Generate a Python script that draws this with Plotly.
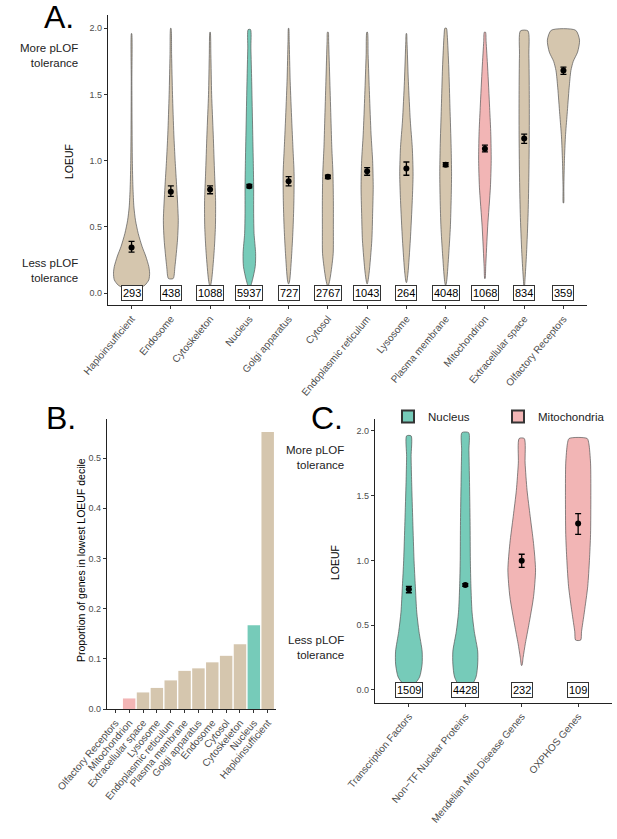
import plotly.graph_objects as go

# ------------------------------------------------------------
# colours / fonts / page geometry
# ------------------------------------------------------------
TAN = "#D5C6AE"
TEAL = "#76CBB9"
PINK = "#F2B5B5"
OUTLINE = "#555555"
TICK_GREY = "#4D4D4D"
FONT = "Liberation Sans, Arial, sans-serif"

FIG_W = 617
FIG_H = 839


def px(x):
    # reference pixel -> paper x
    return x / FIG_W


def py(y):
    # reference pixel -> paper y
    return 1 - y / FIG_H


# ------------------------------------------------------------
# Panel A data
# ------------------------------------------------------------
A_CATEGORIES = ["Haploinsufficient", "Endosome", "Cytoskeleton", "Nucleus", "Golgi apparatus",
                "Cytosol", "Endoplasmic reticulum", "Lysosome", "Plasma membrane",
                "Mitochondrion", "Extracellular space", "Olfactory Receptors"]
A_COUNTS = [293, 438, 1088, 5937, 727, 2767, 1043, 264, 4048, 1068, 834, 359]
A_MEANS = [0.345, 0.765, 0.782, 0.807, 0.845, 0.878, 0.92, 0.94, 0.97, 1.09, 1.167, 1.68]
A_CI_LOW = [0.31, 0.73, 0.75, 0.795, 0.81, 0.865, 0.89, 0.89, 0.955, 1.066, 1.13, 1.652]
A_CI_HIGH = [0.39, 0.81, 0.81, 0.82, 0.88, 0.89, 0.948, 0.99, 0.985, 1.117, 1.20, 1.707]
A_COLORS = [TAN, TAN, TAN, TEAL, TAN, TAN, TAN, TAN, TAN, PINK, TAN, TAN]

# violin outlines: LOEUF levels and half widths (category units)
A_VIOLIN_LEVELS = [
    [0.04, 0.06, 0.10, 0.15, 0.20, 0.28, 0.35, 0.45, 0.55, 0.65, 0.80, 1.00, 1.30, 1.60, 1.96],
    [0.11, 0.2, 0.4, 0.55, 0.8, 1.0, 1.2, 1.5, 1.8, 2.0],
    [0.05, 0.1, 0.3, 0.5, 0.7, 0.9, 1.2, 1.5, 1.8, 1.97],
    [0.035, 0.1, 0.2, 0.3, 0.45, 0.6, 0.8, 1.0, 1.3, 1.6, 1.85, 1.99],
    [0.07, 0.1, 0.3, 0.5, 0.7, 0.9, 1.1, 1.3, 1.6, 1.9, 2.0],
    [0.05, 0.1, 0.2, 0.3, 0.5, 0.7, 0.9, 1.1, 1.3, 1.6, 1.9, 1.97],
    [0.07, 0.15, 0.4, 0.6, 0.8, 1.0, 1.2, 1.5, 1.8, 1.97],
    [0.08, 0.15, 0.4, 0.7, 0.9, 1.1, 1.3, 1.6, 1.9, 1.96],
    [0.06, 0.1, 0.3, 0.5, 0.7, 0.9, 1.1, 1.4, 1.7, 1.95, 2.0],
    [0.11, 0.2, 0.5, 0.8, 1.0, 1.2, 1.4, 1.7, 1.9, 1.97],
    [0.05, 0.1, 0.3, 0.6, 0.9, 1.2, 1.5, 1.8, 1.98],
    [0.68, 0.8, 1.0, 1.18, 1.35, 1.55, 1.68, 1.75, 1.82, 1.91, 1.985],
]
A_VIOLIN_WIDTHS = [
    [0.20, 0.34, 0.44, 0.46, 0.44, 0.36, 0.27, 0.17, 0.10, 0.06, 0.035, 0.02, 0.012, 0.008, 0.004],
    [0.06, 0.105, 0.17, 0.19, 0.15, 0.11, 0.077, 0.043, 0.02, 0.005],
    [0.005, 0.04, 0.10, 0.136, 0.14, 0.115, 0.08, 0.04, 0.02, 0.004],
    [0.01, 0.08, 0.15, 0.16, 0.12, 0.11, 0.11, 0.10, 0.08, 0.06, 0.04, 0.03],
    [0.005, 0.03, 0.08, 0.115, 0.135, 0.14, 0.11, 0.08, 0.04, 0.015, 0.004],
    [0.005, 0.05, 0.10, 0.136, 0.14, 0.14, 0.13, 0.10, 0.08, 0.05, 0.02, 0.01],
    [0.005, 0.05, 0.12, 0.14, 0.155, 0.14, 0.10, 0.06, 0.025, 0.008],
    [0.005, 0.04, 0.10, 0.15, 0.17, 0.15, 0.10, 0.05, 0.015, 0.005],
    [0.005, 0.03, 0.08, 0.12, 0.14, 0.15, 0.14, 0.11, 0.08, 0.04, 0.02],
    [0.005, 0.02, 0.07, 0.14, 0.16, 0.15, 0.12, 0.07, 0.03, 0.015],
    [0.005, 0.02, 0.06, 0.10, 0.12, 0.13, 0.13, 0.12, 0.095],
    [0.005, 0.01, 0.025, 0.05, 0.094, 0.145, 0.19, 0.25, 0.36, 0.41, 0.31],
]

# ------------------------------------------------------------
# Panel B data
# ------------------------------------------------------------
B_CATEGORIES = ["Olfactory Receptors", "Mitochondrion", "Extracellular space", "Lysosome",
                "Endoplasmic reticulum", "Plasma membrane", "Golgi apparatus", "Endosome",
                "Cytosol", "Cytoskeleton", "Nucleus", "Haploinsufficient"]
B_VALUES = [0.0, 0.021, 0.033, 0.042, 0.057, 0.076, 0.081, 0.093, 0.106, 0.129, 0.167, 0.552]
B_COLORS = [TAN, PINK, TAN, TAN, TAN, TAN, TAN, TAN, TAN, TAN, TEAL, TAN]

# ------------------------------------------------------------
# Panel C data
# ------------------------------------------------------------
C_CATEGORIES = ["Transcription Factors", "Non\u2212TF Nuclear Proteins",
                "Mendelian Mito Disease Genes", "OXPHOS Genes"]
C_COUNTS = [1509, 4428, 232, 109]
C_MEANS = [0.777, 0.81, 0.997, 1.285]
C_CI_LOW = [0.75, 0.80, 0.946, 1.20]
C_CI_HIGH = [0.80, 0.82, 1.047, 1.36]
C_COLORS = [TEAL, TEAL, PINK, PINK]
C_VIOLIN_LEVELS = [
    [0.05, 0.1, 0.2, 0.3, 0.45, 0.6, 0.8, 1.0, 1.3, 1.6, 1.8, 1.96],
    [0.025, 0.1, 0.2, 0.3, 0.45, 0.6, 0.8, 1.0, 1.3, 1.6, 1.85, 1.985],
    [0.19, 0.25, 0.36, 0.5, 0.72, 0.925, 1.13, 1.34, 1.54, 1.75, 1.94],
    [0.385, 0.45, 0.6, 0.8, 1.0, 1.2, 1.5, 1.75, 1.9, 1.94],
]
C_VIOLIN_WIDTHS = [
    [0.10, 0.19, 0.235, 0.235, 0.18, 0.14, 0.115, 0.092, 0.07, 0.05, 0.04, 0.04],
    [0.09, 0.19, 0.22, 0.22, 0.16, 0.12, 0.10, 0.09, 0.085, 0.075, 0.065, 0.06],
    [0.005, 0.025, 0.065, 0.125, 0.21, 0.245, 0.21, 0.15, 0.095, 0.06, 0.045],
    [0.045, 0.06, 0.11, 0.17, 0.2, 0.22, 0.225, 0.22, 0.19, 0.16],
]
LEGEND_NAMES = ["Nucleus", "Mitochondria"]
LEGEND_COLORS = [TEAL, PINK]


def violin_trace(center, levels, widths, color, xa, ya):
    xs = [center + w for w in widths] + [center - w for w in reversed(widths)]
    ys = list(levels) + list(reversed(levels))
    xs.append(xs[0])
    ys.append(ys[0])
    return go.Scatter(x=xs, y=ys, mode="lines", fill="toself", fillcolor=color,
                      line=dict(color=OUTLINE, width=0.7, shape="spline", smoothing=0.7),
                      xaxis=xa, yaxis=ya, showlegend=False, hoverinfo="skip")


def mean_trace(means, lows, highs, xa, ya):
    return go.Scatter(
        x=list(range(len(means))), y=means, mode="markers",
        marker=dict(color="black", size=6),
        error_y=dict(type="data", symmetric=False,
                     array=[h - m for h, m in zip(highs, means)],
                     arrayminus=[m - l for m, l in zip(means, lows)],
                     color="black", thickness=1.3, width=3),
        xaxis=xa, yaxis=ya, showlegend=False, hoverinfo="skip")


fig = go.Figure()

# panel A
for i, cat in enumerate(A_CATEGORIES):
    fig.add_trace(violin_trace(i, A_VIOLIN_LEVELS[i], A_VIOLIN_WIDTHS[i], A_COLORS[i], "x", "y"))
fig.add_trace(mean_trace(A_MEANS, A_CI_LOW, A_CI_HIGH, "x", "y"))

# panel B
fig.add_trace(go.Bar(x=list(range(len(B_CATEGORIES))), y=B_VALUES, width=0.9,
                     marker=dict(color=B_COLORS, line=dict(width=0)),
                     xaxis="x2", yaxis="y2", showlegend=False, hoverinfo="skip"))

# panel C
for i, cat in enumerate(C_CATEGORIES):
    fig.add_trace(violin_trace(i, C_VIOLIN_LEVELS[i], C_VIOLIN_WIDTHS[i], C_COLORS[i], "x3", "y3"))
fig.add_trace(mean_trace(C_MEANS, C_CI_LOW, C_CI_HIGH, "x3", "y3"))

# legend entries for panel C
for name, col in zip(LEGEND_NAMES, LEGEND_COLORS):
    fig.add_trace(go.Scatter(x=[None], y=[None], mode="markers", name=name,
                             marker=dict(symbol="square", size=11, color=col,
                                         line=dict(color="#333333", width=1)),
                             xaxis="x3", yaxis="y3"))

axis_common = dict(showline=True, linecolor="#222222", linewidth=1.2, ticks="outside",
                   ticklen=3, tickcolor="#333333", showgrid=False, zeroline=False,
                   automargin=False,
                   tickfont=dict(size=9, color=TICK_GREY, family=FONT))
cat_font = dict(size=10, color=TICK_GREY, family=FONT)

annotations = []
# count boxes
for i, n in enumerate(A_COUNTS):
    annotations.append(dict(x=i, y=0, xref="x", yref="y", text=str(n), showarrow=False,
                            font=dict(size=11, color="black", family=FONT), bgcolor="white",
                            bordercolor="#333333", borderwidth=1, borderpad=1))
for i, n in enumerate(C_COUNTS):
    annotations.append(dict(x=i, y=0, xref="x3", yref="y3", text=str(n), showarrow=False,
                            font=dict(size=11, color="black", family=FONT), bgcolor="white",
                            bordercolor="#333333", borderwidth=1, borderpad=1))

# double-headed tolerance arrows
annotations.append(dict(x=-1.24, y=1.97, xref="x", yref="y", ax=-1.24, ay=0.02,
                        axref="x", ayref="y", showarrow=True, arrowhead=2, arrowside="end+start",
                        arrowsize=1, arrowwidth=1.2, arrowcolor="#222222", text=""))
annotations.append(dict(x=-1.06, y=1.97, xref="x3", yref="y3", ax=-1.06, ay=-0.02,
                        axref="x3", ayref="y3", showarrow=True, arrowhead=2, arrowside="end+start",
                        arrowsize=1, arrowwidth=1.2, arrowcolor="#222222", text=""))

# side texts
side_font = dict(size=11.5, color="#222222", family=FONT)
for txt, tx, ty in [("More pLOF<br>tolerance", 80, 55), ("Less pLOF<br>tolerance", 80, 270),
                    ("More pLOF<br>tolerance", 346, 457), ("Less pLOF<br>tolerance", 346, 647)]:
    annotations.append(dict(x=px(tx), y=py(ty), xref="paper", yref="paper", text=txt,
                            align="right", xanchor="right", yanchor="middle", showarrow=False,
                            font=side_font))

# axis titles
for txt, tx, ty in [("LOEUF", 69, 162), ("Proportion of genes in lowest LOEUF decile", 81, 560),
                    ("LOEUF", 335, 563)]:
    annotations.append(dict(x=px(tx), y=py(ty), xref="paper", yref="paper", text=txt,
                            textangle=-90, showarrow=False, xanchor="center", yanchor="middle",
                            font=dict(size=10.5, color="black", family=FONT)))

# panel letters
for txt, tx, ty in [("A.", 42, 16.5), ("B.", 44, 418), ("C.", 309, 418)]:
    annotations.append(dict(x=px(tx), y=py(ty), xref="paper", yref="paper", text=txt,
                            xanchor="left", yanchor="middle", showarrow=False,
                            font=dict(size=32, color="black", family=FONT)))

fig.update_layout(
    width=FIG_W, height=FIG_H,
    margin=dict(l=0, r=0, t=0, b=0, autoexpand=False),
    paper_bgcolor="white", plot_bgcolor="white",
    font=dict(family=FONT),
    xaxis=dict(axis_common, domain=[px(108), px(587)], range=[-0.6, 11.6], anchor="y",
               tickvals=list(range(len(A_CATEGORIES))), ticktext=A_CATEGORIES, tickangle=-50,
               tickfont=cat_font),
    yaxis=dict(axis_common, domain=[py(305), py(15)], range=[-0.09, 2.1], anchor="x",
               tickvals=[0, 0.5, 1, 1.5, 2], ticktext=["0.0", "0.5", "1.0", "1.5", "2.0"]),
    xaxis2=dict(axis_common, domain=[px(107), px(276)], range=[-0.6, 11.6], anchor="y2",
                tickvals=list(range(len(B_CATEGORIES))), ticktext=B_CATEGORIES, tickangle=-50,
                tickfont=cat_font),
    yaxis2=dict(axis_common, domain=[py(709), py(419)], range=[0, 0.578], anchor="x2",
                tickvals=[0, 0.1, 0.2, 0.3, 0.4, 0.5],
                ticktext=["0.0", "0.1", "0.2", "0.3", "0.4", "0.5"]),
    xaxis3=dict(axis_common, domain=[px(375), px(612)], range=[-0.6, 3.6], anchor="y3",
                tickvals=list(range(len(C_CATEGORIES))), ticktext=C_CATEGORIES, tickangle=-50,
                tickfont=cat_font),
    yaxis3=dict(axis_common, domain=[py(702.7), py(419.3)], range=[-0.098, 2.088],
                anchor="x3",
                tickvals=[0, 0.5, 1, 1.5, 2], ticktext=["0.0", "0.5", "1.0", "1.5", "2.0"]),
    showlegend=True,
    legend=dict(orientation="h", x=px(388), y=py(402), xanchor="left", yanchor="top",
                font=dict(size=11.5, color="#222222", family=FONT),
                entrywidth=65, entrywidthmode="pixels", itemsizing="constant",
                bgcolor="rgba(0,0,0,0)"),
    annotations=annotations,
)

# drop the browser's default 8px page margin so the figure fills the window
fig.write_html("out.html", config={"displayModeBar": False},
               post_script="document.body.style.margin = '0';")
